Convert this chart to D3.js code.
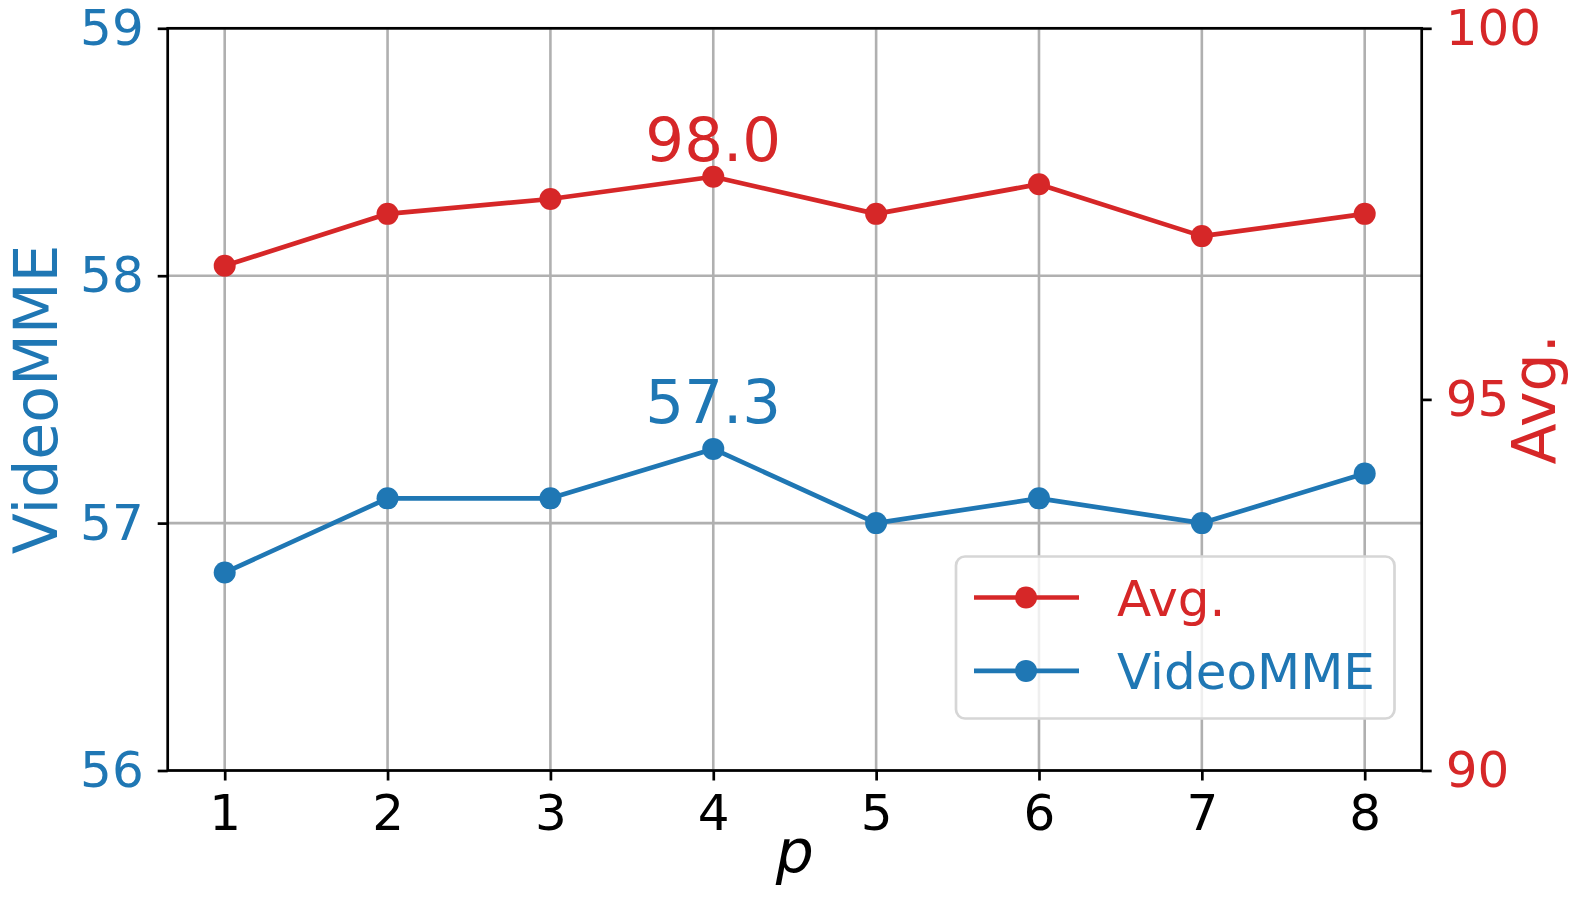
<!DOCTYPE html>
<html>
<head>
<meta charset="utf-8">
<title>VideoMME vs Avg.</title>
<script src="https://d3js.org/d3.v7.min.js"></script>
<style>
  body { margin: 0; background: #fff; }
  svg { display: block; font-family: "DejaVu Sans", sans-serif; }
  .grid line { stroke: #b0b0b0; stroke-width: 2.6px; }
  .axis path, .axis line { stroke: #000; stroke-width: 2.7px; }
</style>
</head>
<body>
<div id="chart"></div>
<script>
// data
var pValues = [1, 2, 3, 4, 5, 6, 7, 8];
var videoMME = [56.8, 57.1, 57.1, 57.3, 57.0, 57.1, 57.0, 57.2];
var avgScore = [96.8, 97.5, 97.7, 98.0, 97.5, 97.9, 97.2, 97.5];
var leftTicks = [56, 57, 58, 59];
var rightTicks = [90, 95, 100];
var peakIndex = 3; // p = 4 gets the value label

var blue = "#1f77b4", red = "#d62728";
var font = "DejaVu Sans";

var width = 1578, height = 902;
var margin = {top: 28.3, right: 156.3, bottom: 131.5, left: 167.7};

var svg = d3.select("#chart").append("svg")
  .attr("width", width)
  .attr("height", height);

var x = d3.scaleLinear()
  .domain([0.65, 8.35])
  .range([margin.left, width - margin.right]);
var yL = d3.scaleLinear()
  .domain([56, 59])
  .range([height - margin.bottom, margin.top]);
var yR = d3.scaleLinear()
  .domain([90, 100])
  .range([height - margin.bottom, margin.top]);

// grid (from the left axis only)
var grid = svg.append("g").attr("class", "grid");
grid.selectAll(".gx").data(pValues).enter().append("line")
  .attr("x1", d => x(d)).attr("x2", d => x(d))
  .attr("y1", margin.top).attr("y2", height - margin.bottom);
grid.selectAll(".gy").data(leftTicks).enter().append("line")
  .attr("x1", margin.left).attr("x2", width - margin.right)
  .attr("y1", d => yL(d)).attr("y2", d => yL(d));

// lines + markers
function drawSeries(values, yScale, color) {
  var line = d3.line()
    .x((d, i) => x(pValues[i]))
    .y(d => yScale(d));
  svg.append("path")
    .datum(values)
    .attr("d", line)
    .attr("fill", "none")
    .attr("stroke", color)
    .attr("stroke-width", 4.7)
    .attr("stroke-linejoin", "round");
  svg.append("g").selectAll("circle")
    .data(values).enter().append("circle")
    .attr("cx", (d, i) => x(pValues[i]))
    .attr("cy", d => yScale(d))
    .attr("r", 11)
    .attr("fill", color);
}
drawSeries(videoMME, yL, blue);
drawSeries(avgScore, yR, red);

// value labels at the peak
svg.append("text")
  .attr("x", x(pValues[peakIndex]))
  .attr("y", yR(avgScore[peakIndex]) - 15.5)
  .attr("text-anchor", "middle")
  .attr("font-size", 61)
  .attr("fill", red)
  .text(avgScore[peakIndex].toFixed(1));
svg.append("text")
  .attr("x", x(pValues[peakIndex]))
  .attr("y", yL(videoMME[peakIndex]) - 25.5)
  .attr("text-anchor", "middle")
  .attr("font-size", 61)
  .attr("fill", blue)
  .text(videoMME[peakIndex].toFixed(1));

// axes
var xAxis = svg.append("g").attr("class", "axis")
  .attr("transform", "translate(0," + (height - margin.bottom) + ")")
  .call(d3.axisBottom(x).tickValues(pValues).tickFormat(d3.format("d"))
    .tickSize(10).tickPadding(14).tickSizeOuter(0));
xAxis.attr("font-family", font).attr("font-size", 50);
xAxis.selectAll("text").attr("fill", "#000");
xAxis.select(".domain").remove();

var leftAxis = svg.append("g").attr("class", "axis")
  .attr("transform", "translate(" + margin.left + ",0)")
  .call(d3.axisLeft(yL).tickValues(leftTicks).tickFormat(d3.format("d"))
    .tickSize(10).tickPadding(14).tickSizeOuter(0));
leftAxis.attr("font-family", font).attr("font-size", 50);
leftAxis.selectAll("text").attr("fill", blue);
leftAxis.select(".domain").remove();

var rightAxis = svg.append("g").attr("class", "axis")
  .attr("transform", "translate(" + (width - margin.right) + ",0)")
  .call(d3.axisRight(yR).tickValues(rightTicks).tickFormat(d3.format("d"))
    .tickSize(10).tickPadding(14).tickSizeOuter(0));
rightAxis.attr("font-family", font).attr("font-size", 50);
rightAxis.selectAll("text").attr("fill", red);
rightAxis.select(".domain").remove();

// frame
svg.append("rect")
  .attr("x", margin.left).attr("y", margin.top)
  .attr("width", width - margin.left - margin.right)
  .attr("height", height - margin.top - margin.bottom)
  .attr("fill", "none")
  .attr("stroke", "#000")
  .attr("stroke-width", 2.7);

// axis titles
var midY = margin.top + (height - margin.top - margin.bottom) / 2;
svg.append("text")
  .attr("transform", "translate(57," + midY + ") rotate(-90)")
  .attr("text-anchor", "middle")
  .attr("font-size", 60)
  .attr("fill", blue)
  .text("VideoMME");
svg.append("text")
  .attr("transform", "translate(1555," + midY + ") rotate(-90)")
  .attr("text-anchor", "middle")
  .attr("font-size", 60)
  .attr("fill", red)
  .text("Avg.");
svg.append("text")
  .attr("x", margin.left + (width - margin.left - margin.right) / 2)
  .attr("y", 873)
  .attr("text-anchor", "middle")
  .attr("font-size", 60)
  .attr("font-style", "italic")
  .text("p");

// legend
var legendItems = [
  {name: "Avg.", color: red},
  {name: "VideoMME", color: blue}
];
var legend = svg.append("g").attr("transform", "translate(956,556.5)");
legend.append("rect")
  .attr("width", 438.5).attr("height", 162)
  .attr("rx", 9).attr("ry", 9)
  .attr("fill", "#fff").attr("fill-opacity", 0.8)
  .attr("stroke", "#d6d6d6").attr("stroke-width", 2.7);
var rows = legend.selectAll(".row").data(legendItems).enter().append("g")
  .attr("transform", (d, i) => "translate(0," + (41 + i * 73.4) + ")");
rows.append("line")
  .attr("x1", 18).attr("x2", 123)
  .attr("stroke", d => d.color).attr("stroke-width", 4.7);
rows.append("circle")
  .attr("cx", 70).attr("r", 11)
  .attr("fill", d => d.color);
rows.append("text")
  .attr("x", 161).attr("y", 18.5)
  .attr("font-size", 50)
  .attr("fill", d => d.color)
  .text(d => d.name);
</script>
</body>
</html>
